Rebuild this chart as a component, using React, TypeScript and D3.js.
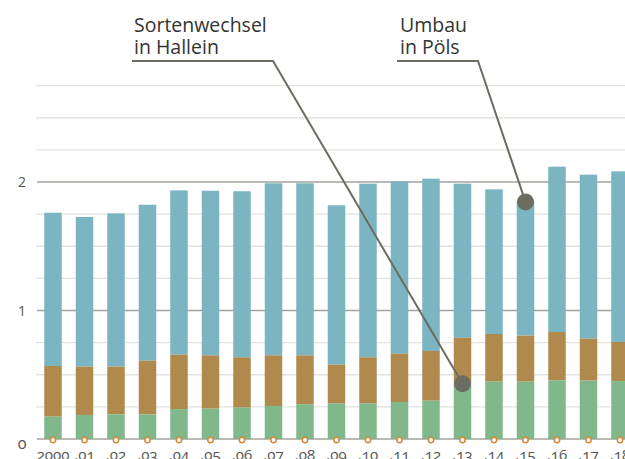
import React from "react";
import * as d3 from "d3";

const years = ["2000", ".01", ".02", ".03", ".04", ".05", ".06", ".07", ".08", ".09", ".10", ".11", ".12", ".13", ".14", ".15", ".16", ".17", ".18"];
// cumulative tops
const greenTop = [0.174, 0.187, 0.192, 0.192, 0.233, 0.236, 0.244, 0.257, 0.27, 0.275, 0.275, 0.288, 0.298, 0.44, 0.446, 0.446, 0.457, 0.454, 0.451];
const brownTop = [0.568, 0.563, 0.563, 0.609, 0.656, 0.651, 0.636, 0.651, 0.651, 0.578, 0.636, 0.664, 0.685, 0.788, 0.817, 0.804, 0.833, 0.781, 0.755];
const blueTop = [1.761, 1.728, 1.756, 1.823, 1.935, 1.932, 1.928, 1.99, 1.99, 1.819, 1.987, 2.005, 2.026, 1.987, 1.943, 1.845, 2.119, 2.057, 2.083];
const gridValues = [0.25, 0.5, 0.75, 1.25, 1.5, 1.75, 2.25, 2.5, 2.75];
const majorValues = [0, 1, 2];
const yTickLabels = ["0", "1", "2"];

const annotations = [
  { lines: ["Sortenwechsel", "in Hallein"], year: ".13", value: 0.43, textX: 134, lineStart: 132, elbow: 273 },
  { lines: ["Umbau", "in Pöls"], year: ".15", value: 1.845, textX: 400, lineStart: 397, elbow: 478 },
];

const W = 625;
const H = 459;
const BLUE = "#7ab5c1";
const BROWN = "#b0894d";
const GREEN = "#80b88c";
const DARK = "#6c6c62";

export default function App() {
  const x = d3.scalePoint<string>().domain(years).range([53, 53 + 18 * 31.5]);
  const y = d3.scaleLinear().domain([0, 2.75]).range([439, 439 - 2.75 * 128.5]);
  const bw = 17.5;
  const font = "'Open Sans', sans-serif";

  return (
    <svg width={W} height={H} style={{ position: "absolute", left: 0, top: 0, background: "#fff" }}>
      {gridValues.map((v) => (
        <line key={"g" + v} x1={36} x2={W} y1={y(v)} y2={y(v)} stroke="#e2e2df" strokeWidth={1.3} />
      ))}
      {majorValues.map((v) => (
        <line key={"m" + v} x1={37} x2={W} y1={y(v)} y2={y(v)} stroke="#a3a29b" strokeWidth={1.5} />
      ))}
      {majorValues.map((v, i) => (
        <text
          key={"l" + v}
          x={22}
          y={v === 0 ? y(v) + 10 : y(v) + 5}
          textAnchor="middle"
          fontFamily={font}
          fontSize={v === 0 ? 16 : 14}
          fill="#555"
          style={{ fontVariantNumeric: v === 0 ? "oldstyle-nums" : "normal" }}
        >
          {yTickLabels[i]}
        </text>
      ))}
      {years.map((yr, i) => {
        const cx = x(yr)!;
        return (
          <g key={yr}>
            <rect x={cx - bw / 2} width={bw} y={y(blueTop[i])} height={y(brownTop[i]) - y(blueTop[i])} fill={BLUE} />
            <rect x={cx - bw / 2} width={bw} y={y(brownTop[i])} height={y(greenTop[i]) - y(brownTop[i])} fill={BROWN} />
            <rect x={cx - bw / 2} width={bw} y={y(greenTop[i])} height={y(0) - y(greenTop[i])} fill={GREEN} />
          </g>
        );
      })}
      {years.map((yr) => (
        <circle key={"c" + yr} cx={x(yr)!} cy={440} r={2.7} fill="#fff" stroke="#d4873a" strokeWidth={1.5} />
      ))}
      {years.map((yr) => (
        <text
          key={"t" + yr}
          x={x(yr)!}
          y={460}
          textAnchor="middle"
          fontFamily={font}
          fontSize={15}
          fill="#555"
          style={{ fontVariantNumeric: "oldstyle-nums" }}
        >
          {yr}
        </text>
      ))}
      {annotations.map((a) => {
        const px = x(a.year)!;
        const py = y(a.value);
        return (
          <g key={a.lines[0]}>
            <path d={`M${a.lineStart},61 H${a.elbow} L${px},${py}`} fill="none" stroke={DARK} strokeWidth={2} />
            <circle cx={px} cy={py} r={8.5} fill={DARK} />
            {a.lines.map((t, j) => (
              <text key={t} x={a.textX} y={32 + j * 22} fontFamily={font} fontSize={19.5} fill="#333">
                {t}
              </text>
            ))}
          </g>
        );
      })}
    </svg>
  );
}
